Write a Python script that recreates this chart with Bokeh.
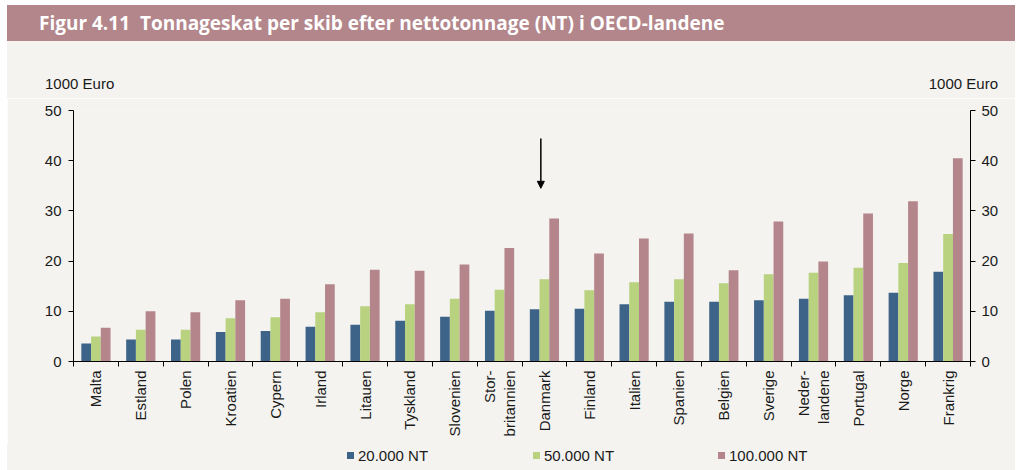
import numpy as np
from bokeh.plotting import figure
from bokeh.models import (Range1d, LinearAxis, FixedTicker, Arrow, NormalHead, Div,
                          ColumnDataSource)
from bokeh.layouts import column
from bokeh.transform import dodge
from bokeh.embed import file_html
from bokeh.resources import INLINE

# ---------------- data ----------------
title_text = "Figur 4.11&nbsp;&nbsp;Tonnageskat per skib efter nettotonnage (NT) i OECD-landene"
unit_label = "1000 Euro"
countries = ["Malta", "Estland", "Polen", "Kroatien", "Cypern", "Irland", "Litauen",
             "Tyskland", "Slovenien", "Stor-\nbritannien", "Danmark", "Finland", "Italien",
             "Spanien", "Belgien", "Sverige", "Neder-\nlandene", "Portugal", "Norge", "Frankrig"]
nt20 = [3.6, 4.4, 4.4, 5.9, 6.1, 6.9, 7.3, 8.1, 8.9, 10.1, 10.4, 10.5, 11.4, 11.9, 11.9,
        12.2, 12.5, 13.2, 13.7, 17.9]
nt50 = [5.0, 6.3, 6.3, 8.6, 8.8, 9.8, 11.0, 11.4, 12.5, 14.3, 16.4, 14.2, 15.8, 16.4, 15.6,
        17.4, 17.7, 18.7, 19.6, 25.4]
nt100 = [6.7, 10.0, 9.8, 12.2, 12.5, 15.4, 18.3, 18.1, 19.3, 22.6, 28.5, 21.5, 24.5, 25.5,
         18.2, 27.9, 19.9, 29.5, 31.9, 40.5]
series_names = ["20.000 NT", "50.000 NT", "100.000 NT"]
y_ticks = [0, 10, 20, 30, 40, 50]
arrow_country = "Danmark"
arrow_from = 44.4
arrow_to = 34.5

# ---------------- styles ----------------
BG = "#f4f3ef"
BAR_COLORS = ["#3e6389", "#b8d27f", "#b4868b"]
TITLE_BG = "#b3868b"
FONT = "Liberation Sans"
TXT = "#1a1a1a"
W = 1008

n = len(countries)
xc = np.arange(n) + 0.5
src = ColumnDataSource(dict(x=xc, a=nt20, b=nt50, c=nt100))

p = figure(width=W, height=347, x_range=Range1d(0, n), y_range=Range1d(0, 50),
           output_backend="svg", toolbar_location=None, x_axis_type=None, y_axis_type=None,
           background_fill_color=BG, border_fill_color=BG,
           min_border_left=66, min_border_right=45, min_border_top=12, min_border_bottom=84)
p.outline_line_color = None
p.xgrid.visible = False
p.ygrid.visible = False

bw = 0.217
for field, off, col in zip(["a", "b", "c"], [-bw, 0, bw], BAR_COLORS):
    p.vbar(x=dodge("x", off), top=field, width=bw, source=src,
           fill_color=col, line_color=None)

# axes
def style_axis(ax):
    ax.axis_line_color = "black"
    ax.axis_line_width = 1
    ax.major_tick_line_color = "black"
    ax.major_tick_out = 5
    ax.major_tick_in = 0
    ax.minor_tick_line_color = None
    ax.major_label_text_font = FONT
    ax.major_label_text_font_size = "15px"
    ax.major_label_text_color = TXT

yl = LinearAxis(ticker=FixedTicker(ticks=y_ticks))
style_axis(yl)
yl.major_label_standoff = 7
p.add_layout(yl, "left")

yr = LinearAxis(ticker=FixedTicker(ticks=y_ticks))
style_axis(yr)
yr.major_label_standoff = 6
p.add_layout(yr, "right")

xa = LinearAxis(ticker=FixedTicker(ticks=list(xc), minor_ticks=list(np.arange(0, n + 1))))
style_axis(xa)
xa.major_tick_line_color = None
xa.minor_tick_line_color = "black"
xa.minor_tick_out = 5
xa.minor_tick_in = 0
xa.major_label_standoff = 4
xa.major_label_orientation = np.pi / 2
xa.major_label_overrides = {float(v): c for v, c in zip(xc, countries)}
p.add_layout(xa, "below")

# arrow
ai = countries.index(arrow_country)
ax_pos = xc[ai] - 0.08
p.add_layout(Arrow(end=NormalHead(size=7, fill_color="black", line_color="black"),
                   x_start=ax_pos, y_start=arrow_from, x_end=ax_pos, y_end=arrow_to,
                   line_color="black", line_width=1.5))

# header (title bar + unit labels)
head_html = f"""
<div style="position:relative;width:{W}px;height:93px;background:{BG};">
  <div style="position:absolute;left:0;top:0;width:{W}px;height:36px;background:{TITLE_BG};
       color:white;font-weight:bold;font-family:'Open Sans';font-size:19px;line-height:36px;
       padding-left:32px;box-sizing:border-box;white-space:nowrap;">{title_text}</div>
  <div style="position:absolute;left:38px;top:70px;font-family:'{FONT}';font-size:15px;
       line-height:17px;color:{TXT};white-space:nowrap;">{unit_label}</div>
  <div style="position:absolute;right:17px;top:70px;font-family:'{FONT}';font-size:15px;
       line-height:17px;color:{TXT};white-space:nowrap;">{unit_label}</div>
</div>
"""
head = Div(text=head_html, width=W, height=93, margin=0)

# legend (bottom)
sq_left = [340, 526, 711]
items_html = ""
for name, col, lx in zip(series_names, BAR_COLORS, sq_left):
    items_html += (f'<div style="position:absolute;left:{lx}px;top:7px;width:7px;height:7px;'
                   f'background:{col};"></div>'
                   f'<div style="position:absolute;left:{lx + 11}px;top:2px;font-family:\'{FONT}\';'
                   f'font-size:15px;line-height:17px;color:{TXT};white-space:nowrap;">{name}</div>')
foot_html = (f'<div style="position:relative;width:{W}px;height:25px;background:{BG};">'
             f'{items_html}</div>')
foot = Div(text=foot_html, width=W, height=25, margin=0)

p.margin = 0
layout = column(head, p, foot, spacing=0, margin=(5, 0, 0, 7))

open("out.html", "w").write(file_html(layout, INLINE))
